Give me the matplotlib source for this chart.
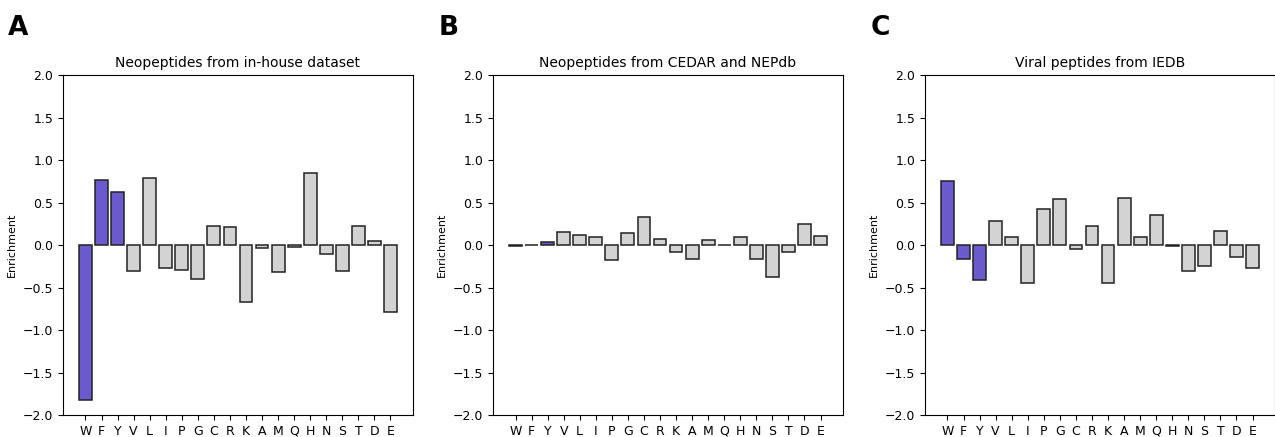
import numpy as np
import matplotlib
matplotlib.use("Agg")
import matplotlib.pyplot as plt

# amino acid order used on the x axis
residues = ["W", "F", "Y", "V", "L", "I", "P", "G", "C", "R",
            "K", "A", "M", "Q", "H", "N", "S", "T", "D", "E"]
aromatic = ["W", "F", "Y"]

titles = ["Neopeptides from in-house dataset",
          "Neopeptides from CEDAR and NEPdb",
          "Viral peptides from IEDB"]
panel_labels = ["A", "B", "C"]

inhouse = [-1.82, 0.76, 0.62, -0.31, 0.79, -0.27, -0.29, -0.40, 0.22, 0.21,
           -0.67, -0.04, -0.32, -0.02, 0.85, -0.10, -0.31, 0.22, 0.05, -0.79]
cedar_nepdb = [-0.01, 0.004, 0.04, 0.15, 0.12, 0.09, -0.18, 0.14, 0.33, 0.07,
               -0.08, -0.17, 0.06, 0.004, 0.09, -0.17, -0.38, -0.08, 0.25, 0.11]
viral = [0.75, -0.16, -0.41, 0.28, 0.10, -0.45, 0.42, 0.54, -0.05, 0.22,
         -0.45, 0.55, 0.10, 0.35, -0.01, -0.31, -0.25, 0.16, -0.14, -0.27]

datasets = [inhouse, cedar_nepdb, viral]

fig = plt.figure(figsize=(12.75, 4.37), dpi=100)
lefts = [0.0494, 0.3867, 0.7255]

colors = ["#6a5acd" if r in aromatic else "#d3d3d3" for r in residues]
x = np.arange(len(residues))

for left, vals, title, lab in zip(lefts, datasets, titles, panel_labels):
    ax = fig.add_axes([left, 0.0503, 0.2745, 0.778])
    ax.bar(x, vals, width=0.8, color=colors, edgecolor="#222222", linewidth=1.1)
    ax.set_ylim(-2.0, 2.0)
    ax.set_xlim(-1.4, 20.4)
    ax.set_yticks(np.arange(-2.0, 2.01, 0.5))
    ax.set_xticks(x)
    ax.set_xticklabels(residues, fontsize=9)
    ax.tick_params(axis="y", labelsize=9)
    ax.set_ylabel("Enrichment", fontsize=8)
    ax.set_title(title, fontsize=10)
    fig.text(left - 0.043, 0.935, lab, fontsize=19, fontweight="bold",
             ha="left", va="center")

fig.savefig("out.png", dpi=100)
